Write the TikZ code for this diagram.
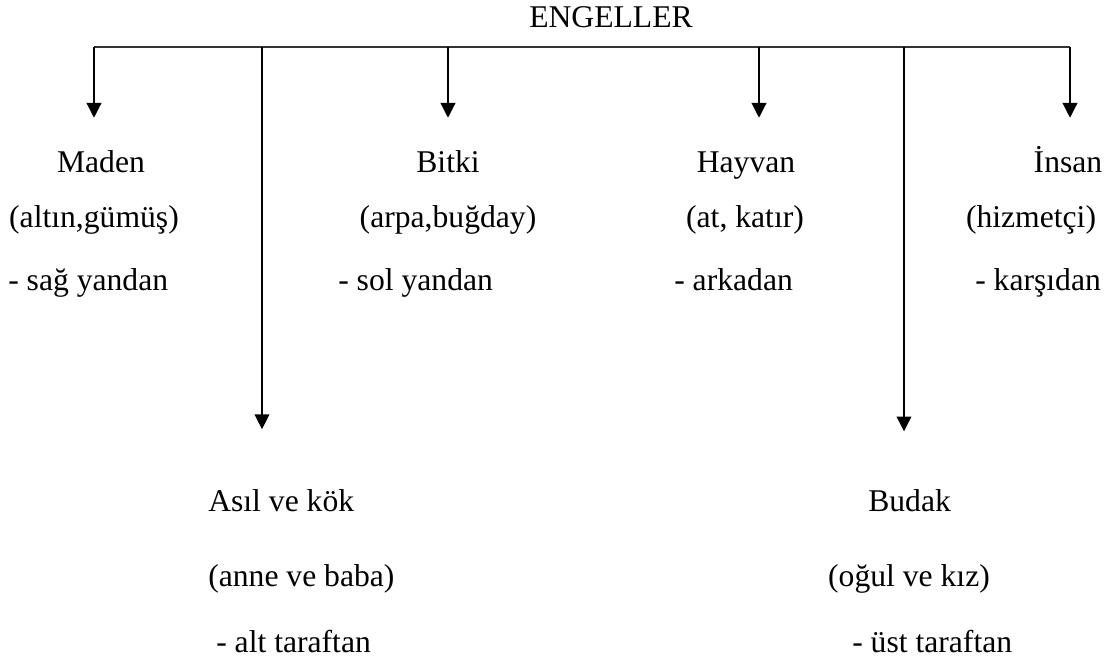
\documentclass[tikz,border=0pt]{standalone}
\usepackage{fontspec}
\setmainfont{Liberation Serif}
\usetikzlibrary{arrows.meta,calc}

\tikzset{
  txt/.style={inner sep=0,anchor=base,font=\fontsize{22.5}{27}\selectfont},
  head/.style={txt,text height=15pt},
  arr/.style={line width=0.9pt,-{Triangle[width=10.5pt,length=10.5pt]}}
}

\begin{document}
\begin{tikzpicture}[x=0.025cm,y=-0.025cm]
  \useasboundingbox (0,0) rectangle (1119,664);

  \node[txt] (top) at (611,27) {ENGELLER};

  % upper row
  \node[head] (maden) at (101,172) {Maden};
  \node[txt] (madenA) at (94,227) {(altın,gümüş)};
  \node[txt,anchor=base west] (madenB) at (8,290) {- sağ yandan};

  \node[head] (bitki) at (448,172) {Bitki};
  \node[txt] (bitkiA) at (448,227) {(arpa,buğday)};
  \node[txt,anchor=base west] (bitkiB) at (338,290) {- sol yandan};

  \node[head] (hayvan) at (746,172) {Hayvan};
  \node[txt] (hayvanA) at (745,227) {(at, katır)};
  \node[txt,anchor=base west] (hayvanB) at (674,290) {- arkadan};

  \node[head] (insan) at (1068,172) {İnsan};
  \node[txt] (insanA) at (1031,227) {(hizmetçi)};
  \node[txt,anchor=base west] (insanB) at (975,290) {- karşıdan};

  % lower row
  \node[head,anchor=base west] (asil) at (208,511) {Asıl ve kök};
  \node[txt,anchor=base west] (asilA) at (208,586) {(anne ve baba)};
  \node[txt,anchor=base west] (asilB) at (216,652) {- alt taraftan};

  \node[head,anchor=base west] (budak) at (868,511) {Budak};
  \node[txt] (budakA) at (909,586) {(oğul ve kız)};
  \node[txt,anchor=base west] (budakB) at (852,652) {- üst taraftan};

  \coordinate (b1) at (94,47);
  \coordinate (b2) at (262,47);
  \coordinate (b3) at (448,47);
  \coordinate (b4) at (759,47);
  \coordinate (b5) at (904,47);
  \coordinate (b6) at (1070,47);

  \draw[line width=1.4pt,black!80] (b1) -- (b6);
  \path[arr] (b1) edge[shorten >=23.4pt] (b1 |- maden.north)
             (b3) edge[shorten >=23.4pt] (b3 |- bitki.north)
             (b4) edge[shorten >=23.4pt] (b4 |- hayvan.north)
             (b6) edge[shorten >=23.4pt] (b6 |- insan.north);
  \path[arr] (b2) edge[shorten >=43pt] (b2 |- asil.north)
             (b5) edge[shorten >=41.5pt] (b5 |- budak.north);

\end{tikzpicture}
\end{document}
